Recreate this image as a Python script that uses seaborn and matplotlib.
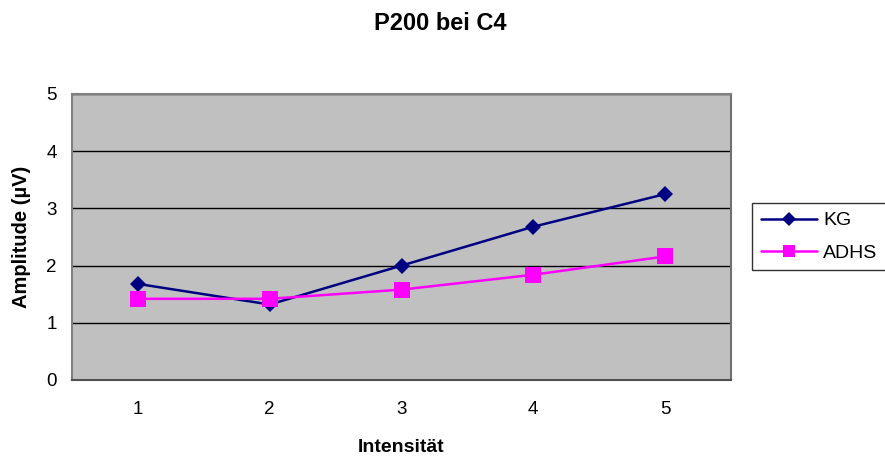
import matplotlib
matplotlib.use("Agg")
import matplotlib.pyplot as plt
import seaborn as sns
import pandas as pd

# Amplitude of the P200 component at electrode C4 per stimulus intensity
intensitaet = [1, 2, 3, 4, 5]
kg = [1.68, 1.32, 2.00, 2.68, 3.25]
adhs = [1.42, 1.42, 1.58, 1.84, 2.16]
gruppen = ["KG", "ADHS"]
y_ticks = [0, 1, 2, 3, 4, 5]

df = pd.DataFrame({
    "Intensität": intensitaet * 2,
    "Amplitude": kg + adhs,
    "Gruppe": ["KG"] * len(kg) + ["ADHS"] * len(adhs),
})

sns.set_theme(style="white")
plt.rcParams["font.family"] = ["Liberation Sans", "DejaVu Sans"]
plt.rcParams["text.color"] = "black"
plt.rcParams["axes.labelcolor"] = "black"

fig = plt.figure(figsize=(8.85, 4.57), dpi=100)
ax = fig.add_axes([72 / 885, 77 / 457, 659 / 885, 286 / 457])
ax.set_facecolor("#C0C0C0")

palette = {"KG": "#000080", "ADHS": "#FF00FF"}
markers = {"KG": "D", "ADHS": "s"}
msizes = {"KG": 8.5, "ADHS": 11.0}
sns.lineplot(data=df, x="Intensität", y="Amplitude", hue="Gruppe", style="Gruppe",
             hue_order=gruppen, style_order=gruppen, palette=palette,
             markers=markers, dashes=False, linewidth=1.8, ax=ax, legend=False)

for line, g in zip(ax.lines, gruppen):
    line.set_markersize(msizes[g])
    line.set_markeredgewidth(0)

ax.set_xlim(0.5, 5.5)
ax.set_ylim(0, 5)
ax.set_xticks(intensitaet)
ax.set_yticks(y_ticks)
ax.tick_params(axis="both", length=0, labelsize=13.5, colors="black")
ax.tick_params(axis="y", pad=11)
ax.tick_params(axis="x", pad=15)
ax.yaxis.grid(True, color="black", linewidth=1)
ax.xaxis.grid(False)
ax.set_axisbelow(True)
for s in ax.spines.values():
    s.set_color("#808080")
    s.set_linewidth(1.5)
    s.set_visible(True)
ax.spines["bottom"].set_color("#505050")
ax.spines["right"].set_color("#707070")

xl = ax.set_xlabel("Intensität", fontsize=14, fontweight="bold", color="black")
xl.set_va("center")
ax.xaxis.set_label_coords(0.5, (380 - 447) / 286)
yl = ax.set_ylabel("Amplitude (µV)", fontsize=14.5, fontweight="bold", color="black")
yl.set_va("center")
ax.yaxis.set_label_coords((22 - 72) / 659, 0.5)
fig.text(0.497, 1 - 23 / 457, "P200 bei C4", fontsize=17, fontweight="bold",
         color="black", ha="center", va="center")

handles = [plt.Line2D([], [], color=palette[g], marker=markers[g], linewidth=1.8,
                      markersize=msizes[g] * 0.85, markeredgewidth=0)
           for g in gruppen]
leg = fig.legend(handles, gruppen, loc="upper left", bbox_to_anchor=(752 / 885, 1 - 203 / 457),
                 frameon=True, fancybox=False, fontsize=14, handlelength=2.9,
                 borderpad=0.45, labelspacing=0.75, handletextpad=0.3, borderaxespad=0)
leg.get_frame().set_edgecolor("black")
leg.get_frame().set_linewidth(1)
for t in leg.get_texts():
    t.set_color("black")

fig.savefig("out.png", dpi=100)
